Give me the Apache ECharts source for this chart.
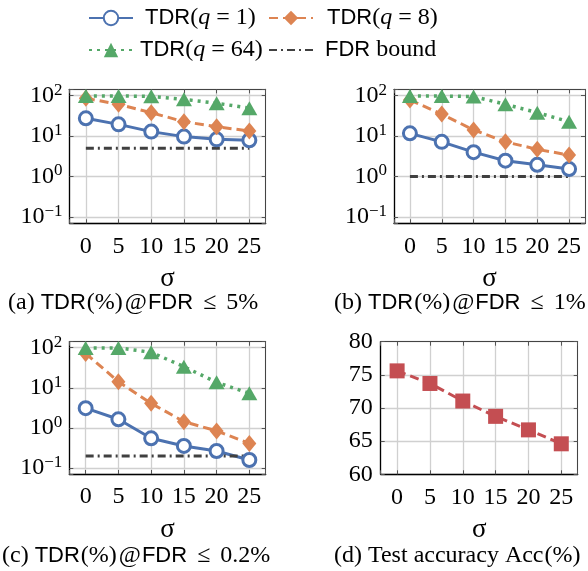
<!DOCTYPE html>
<html>
<head>
<meta charset="utf-8">
<script src="https://cdn.jsdelivr.net/npm/echarts@6/dist/echarts.min.js"></script>
<style>
  html, body { margin: 0; padding: 0; background: #fff; }
  #chart { width: 588px; height: 571px; }
</style>
</head>
<body>
<div id="chart"></div>
<script>
// Noise level on the x axis of every panel
const sigma = [0, 5, 10, 15, 20, 25];

// (a) TDR (%) at FDR <= 5%
const tdrA_q1 = [27.5, 19.5, 12.9, 9.7, 8.3, 7.9];
const tdrA_q8 = [86, 61, 38, 22.7, 17, 13.4];
const tdrA_q64 = [98, 98, 96, 81, 65, 49];

// (b) TDR (%) at FDR <= 1%
const tdrB_q1 = [11.7, 7.2, 4.0, 2.46, 1.95, 1.53];
const tdrB_q8 = [78, 35, 14.2, 7.2, 4.7, 3.4];
const tdrB_q64 = [98, 98, 95, 61, 38, 22.7];

// (c) TDR (%) at FDR <= 0.2%
const tdrC_q1 = [3.1, 1.64, 0.55, 0.355, 0.265, 0.158];
const tdrC_q8 = [72, 14.2, 4.1, 1.43, 0.84, 0.41];
const tdrC_q64 = [98, 99, 77, 33.6, 13.7, 7.3];

// FDR bound of panels (a), (b), (c)
const fdrBounds = [5, 1, 0.2];

// (d) Test accuracy (%)
const accuracy = [75.6, 73.7, 71.05, 68.74, 66.7, 64.6];

const seriesNames = ['TDR(q = 1)', 'TDR(q = 8)', 'TDR(q = 64)', 'FDR bound'];
const captions = [
  '{r|(a) }{s|TDR}{p|(%)}{p|@}{s|FDR}{g|≤}{r|5%}',
  '{r|(b) }{s|TDR}{p|(%)}{p|@}{s|FDR}{g|≤}{r|1%}',
  '{r|(c) }{s|TDR}{p|(%)}{p|@}{s|FDR}{g|≤}{r|0.2%}',
  '{r|(d) Test accuracy Acc}{p|(%)}'
];

const SERIF = 'Liberation Serif';
const SANS = 'Liberation Sans';
const BLUE = '#4c72b0', ORANGE = '#dd8452', GREEN = '#55a868', RED = '#c44e52', DARK = '#404040';

const grids = [
  { left: 69.5, top: 89.3, width: 196.2, height: 134 },
  { left: 394, top: 89.3, width: 196, height: 134 },
  { left: 69.3, top: 341.7, width: 196.4, height: 132.3 },
  { left: 380.7, top: 341.7, width: 197, height: 132.6 }
];
const logRanges = [[0.0697, 143.5], [0.0697, 143.5], [0.0708, 141.3]];

const pts = arr => sigma.map((s, i) => [s, arr[i]]);

const tickStyle = { inside: true, length: 4, lineStyle: { color: '#555', width: 1 } };
const gridLine = { show: true, lineStyle: { color: '#d0d0d0', width: 1.3 } };
const mainLine = { show: true, onZero: false, lineStyle: { color: '#000', width: 1.3 } };
const edgeLine = { show: true, onZero: false, lineStyle: { color: '#444', width: 1 } };

function xTickText(v) { return (v % 5 === 0) ? String(v) : ''; }
function logTickText(v) {
  const e = Math.log10(v);
  const r = Math.round(e);
  if (Math.abs(e - r) > 1e-6) return '';
  return '{b|10}{s|' + (r < 0 ? '\u2212' + (-r) : r) + '}';
}
const logRich = {
  b: { fontFamily: SERIF, fontSize: 24, color: '#000', lineHeight: 28 },
  s: { fontFamily: SERIF, fontSize: 17, color: '#000', lineHeight: 19, verticalAlign: 'top' }
};

const xAxes = [], yAxes = [];
grids.forEach((g, i) => {
  // bottom axis with labels and grid
  xAxes.push({
    type: 'value', gridIndex: i, min: -2.5, max: 27.5, splitNumber: 6,
    axisLine: mainLine,
    axisTick: tickStyle,
    axisLabel: { formatter: xTickText, fontFamily: SERIF, fontSize: 24, color: '#000', margin: 11 },
    splitLine: gridLine,
    name: 'σ', nameLocation: 'middle', nameGap: 42,
    nameTextStyle: { fontFamily: SERIF, fontSize: 27, color: '#000' }
  });
  // top frame edge with ticks
  xAxes.push({
    type: 'value', gridIndex: i, min: -2.5, max: 27.5, splitNumber: 6, position: 'top',
    axisLine: edgeLine,
    axisTick: tickStyle, axisLabel: { show: false }, splitLine: { show: false }
  });
  if (i < 3) {
    const [lo, hi] = logRanges[i];
    yAxes.push({
      type: 'log', logBase: 10, gridIndex: i, min: lo, max: hi,
      axisLine: mainLine,
      axisTick: tickStyle,
      axisLabel: { formatter: logTickText, rich: logRich, margin: 7 },
      splitLine: gridLine
    });
    yAxes.push({
      type: 'log', logBase: 10, gridIndex: i, min: lo, max: hi, position: 'right',
      axisLine: edgeLine,
      axisTick: tickStyle, axisLabel: { show: false }, splitLine: { show: false }
    });
  } else {
    yAxes.push({
      type: 'value', gridIndex: i, min: 60, max: 80, interval: 5,
      axisLine: mainLine,
      axisTick: tickStyle,
      axisLabel: { fontFamily: SERIF, fontSize: 24, color: '#000', margin: 8 },
      splitLine: gridLine
    });
    yAxes.push({
      type: 'value', gridIndex: i, min: 60, max: 80, interval: 5, position: 'right',
      axisLine: edgeLine,
      axisTick: tickStyle, axisLabel: { show: false }, splitLine: { show: false }
    });
  }
});

const tdrPanels = [
  [tdrA_q1, tdrA_q8, tdrA_q64],
  [tdrB_q1, tdrB_q8, tdrB_q64],
  [tdrC_q1, tdrC_q8, tdrC_q64]
];

const series = [];
tdrPanels.forEach((panel, i) => {
  const xi = i * 2, yi = i * 2;
  series.push({
    name: seriesNames[0], type: 'line', xAxisIndex: xi, yAxisIndex: yi, data: pts(panel[0]),
    symbol: 'circle', symbolSize: 13,
    itemStyle: { color: '#fff', borderColor: BLUE, borderWidth: 3 },
    lineStyle: { color: BLUE, width: 3 }
  });
  series.push({
    name: seriesNames[1], type: 'line', xAxisIndex: xi, yAxisIndex: yi, data: pts(panel[1]),
    symbol: 'diamond', symbolSize: [14, 17],
    itemStyle: { color: ORANGE },
    lineStyle: { color: ORANGE, width: 3, type: [9, 5] }
  });
  series.push({
    name: seriesNames[2], type: 'line', xAxisIndex: xi, yAxisIndex: yi, data: pts(panel[2]),
    symbol: 'triangle', symbolSize: [16, 14],
    itemStyle: { color: GREEN },
    lineStyle: { color: GREEN, width: 3.5, type: [3, 5] }
  });
  series.push({
    name: seriesNames[3], type: 'line', xAxisIndex: xi, yAxisIndex: yi,
    data: sigma.map(s => [s, fdrBounds[i]]),
    symbol: 'none', itemStyle: { color: DARK },
    lineStyle: { color: DARK, width: 3, type: [8, 4, 2, 4] }
  });
});
series.push({
  name: 'Acc', type: 'line', xAxisIndex: 6, yAxisIndex: 6, data: pts(accuracy),
  symbol: 'rect', symbolSize: 15,
  itemStyle: { color: RED },
  lineStyle: { color: RED, width: 3, type: [9, 5] }
});

function legendRich(gap) {
  return {
    s: { fontFamily: SANS, fontSize: 22, color: '#000', padding: [0, 0, 0, gap] },
    r: { fontFamily: SERIF, fontSize: 24, color: '#000' },
    i: { fontFamily: SERIF, fontSize: 24, color: '#000', fontStyle: 'italic' }
  };
}
const legendText = {
  'TDR(q = 1)': '{s|TDR}{r|(}{i|q}{r| = 1)}',
  'TDR(q = 8)': '{s|TDR}{r|(}{i|q}{r| = 8)}',
  'TDR(q = 64)': '{s|TDR}{r|(}{i|q}{r| = 64)}',
  'FDR bound': '{s|FDR}{r| bound}'
};
const legendPos = [[88, 6], [268, 6], [88, 38], [268, 38]];
const legendGap = [7, 9, 2, 7];
const legends = seriesNames.map((n, k) => {
  const lg = {
    data: [n], left: legendPos[k][0], top: legendPos[k][1],
    itemWidth: 44, itemHeight: 18, padding: 0,
    formatter: name => legendText[name],
    textStyle: { rich: legendRich(legendGap[k]) },
    selectedMode: false
  };
  // the bound has no marker, only its dash-dot stroke
  if (n === 'FDR bound') lg.itemStyle = { color: 'rgba(0,0,0,0)', borderColor: 'rgba(0,0,0,0)', borderWidth: 0 };
  return lg;
});

const captionRich = {
  r: { fontFamily: SERIF, fontSize: 24, color: '#000', fontWeight: 'normal' },
  p: { fontFamily: SERIF, fontSize: 24, color: '#000', fontWeight: 'normal', padding: [0, 1, 0, 1] },
  g: { fontFamily: SERIF, fontSize: 24, color: '#000', fontWeight: 'normal', padding: [0, 10, 0, 10] },
  s: { fontFamily: SANS, fontSize: 22, color: '#000', fontWeight: 'normal' }
};
const captionPos = [[8, 291], [334, 291], [2, 544], [334, 544]];
const titles = captions.map((c, k) => ({
  text: c, left: captionPos[k][0], top: captionPos[k][1], padding: 0,
  textStyle: { rich: captionRich, fontWeight: 'normal' }
}));

const chart = echarts.init(document.getElementById('chart'), null, { renderer: 'canvas' });
chart.setOption({
  animation: false,
  backgroundColor: '#fff',
  title: titles,
  legend: legends,
  grid: grids,
  xAxis: xAxes,
  yAxis: yAxes,
  series: series
});
</script>
</body>
</html>
